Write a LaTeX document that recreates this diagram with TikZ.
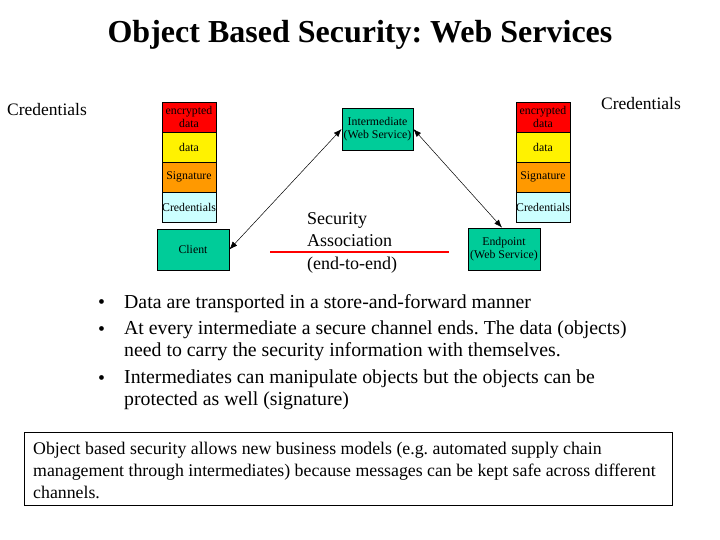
\documentclass[tikz,border=0pt]{standalone}
\usepackage{fontspec}
\setmainfont{Liberation Serif}
\usetikzlibrary{arrows.meta}
\definecolor{tgreen}{HTML}{00CC99}
\definecolor{torange}{HTML}{FF9900}
\definecolor{tcyan}{HTML}{CCFFFF}
\frenchspacing
\begin{document}
\begin{tikzpicture}[x=1pt,y=-1pt,
  layer/.style={draw=black,line width=0.8pt,minimum width=54pt,minimum height=30pt,inner sep=0pt,font=\fontsize{11.8}{12.5}\selectfont,align=center},
  greenbox/.style={draw=black,line width=0.8pt,fill=tgreen,inner sep=0pt,font=\fontsize{11.8}{13}\selectfont,align=center},
  conn/.style={line width=0.5pt,{Latex[length=8pt,width=6pt]}-{Latex[length=8pt,width=6pt]}},
  body/.style={font=\fontsize{19.8}{22}\selectfont,anchor=base west,inner sep=0pt}]
\useasboundingbox (0,0) rectangle (720,540);
\node[font=\fontsize{32}{32}\selectfont\bfseries] (title) at (360,35) {Object Based Security: Web Services};

\node[anchor=base west,inner sep=0pt,font=\fontsize{17.5}{17.5}\selectfont] (credL) at (7,116) {Credentials};
\node[anchor=base west,inner sep=0pt,font=\fontsize{17.5}{17.5}\selectfont] (credR) at (601,110) {Credentials};

% left stack
\node[layer,fill=red] (l1) at (189,117) {encrypted\\data};
\node[layer,fill=yellow] (l2) at (189,147) {data};
\node[layer,fill=torange] (l3) at (189,177) {Signature};
\node[layer,fill=tcyan] (l4) at (189,207) {Credentials};
% right stack
\node[layer,fill=red] (r1) at (543,117) {encrypted\\data};
\node[layer,fill=yellow] (r2) at (543,147) {data};
\node[layer,fill=torange] (r3) at (543,177) {Signature};
\node[layer,fill=tcyan] (r4) at (543,207) {Credentials};

\node[greenbox,minimum width=72pt,minimum height=41pt] (client) at (193,249.5) {Client};
\node[greenbox,minimum width=71pt,minimum height=42pt] (inter) at (377.5,129) {Intermediate\\(Web Service)};
\node[greenbox,minimum width=72pt,minimum height=42pt] (end) at (504,249) {Endpoint\\(Web Service)};

\draw[conn] (client.east) -- (inter.west);
\draw[conn] (inter.east) -- ([xshift=-2pt]end.north);

\node[anchor=north west,inner sep=0pt,align=left,font=\fontsize{18}{22.5}\selectfont] (sa) at (307,212) {Security\\Association\\(end-to-end)};
\coordinate (sa1) at (270,252);
\coordinate (sa2) at (449,252);
\draw[red,line width=2.5pt] (sa1) -- (sa2);

\node[body] (b1) at (98,308) {\textbullet};
\node[body] (t1) at (124,308) {Data are transported in a store-and-forward manner};
\node[body] (b2) at (98,335) {\textbullet};
\node[body,align=left,anchor=north west] (t2) at (124,321) {At every intermediate a secure channel ends. The data (objects)\\need to carry the security information with themselves.};
\node[body] (b3) at (98,384) {\textbullet};
\node[body,align=left,anchor=north west] (t3) at (124,370) {Intermediates can manipulate objects but the objects can be\\protected as well (signature)};

\node[draw=black,line width=0.8pt,anchor=north west,minimum width=648pt,minimum height=73pt,inner sep=0pt] (note) at (24,432) {};
\node[anchor=north west,inner sep=0pt,align=left,font=\fontsize{17.8}{22}\selectfont] (notetext) at (33,442) {Object based security allows new business models (e.g. automated supply chain\\management through intermediates) because messages can be kept safe across different\\channels.};
\end{tikzpicture}
\end{document}
